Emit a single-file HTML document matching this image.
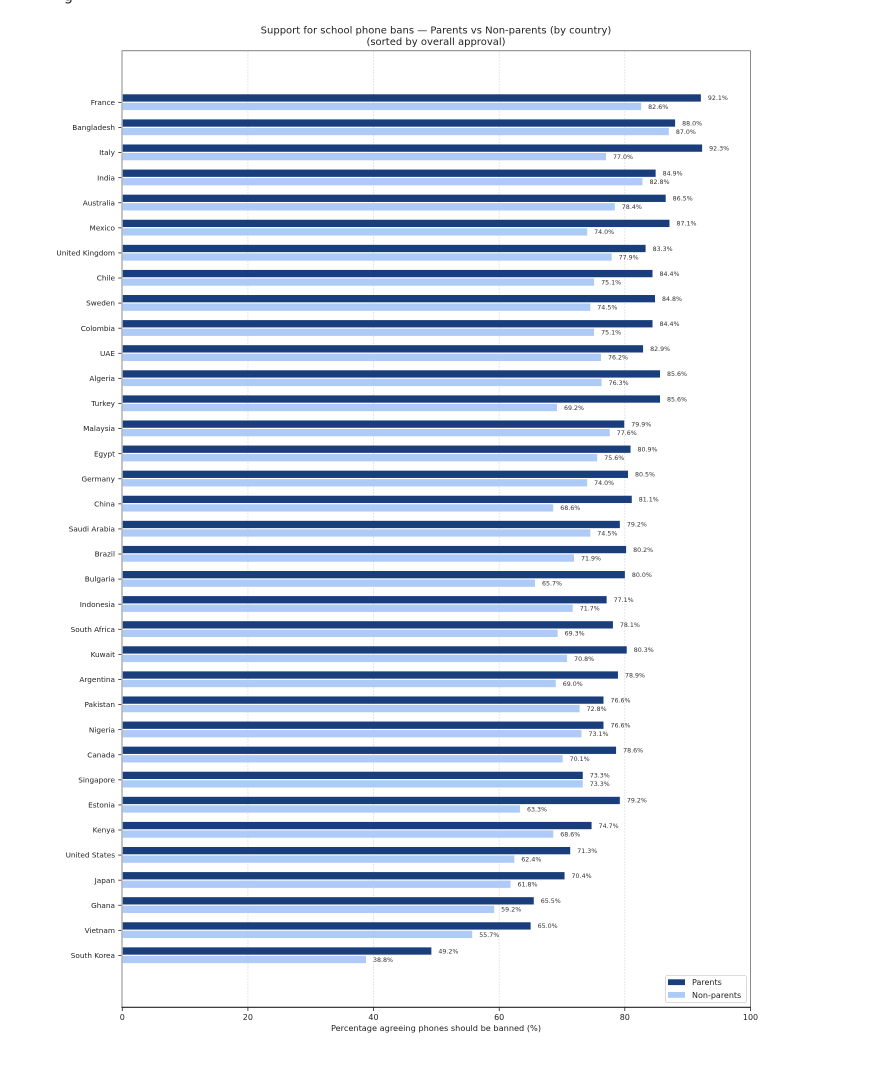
<!DOCTYPE html>
<html>
<head>
<meta charset="utf-8">
<style>
html,body{margin:0;padding:0;background:#fff;}
svg{display:block;}
text{font-family:"DejaVu Sans","Liberation Sans",sans-serif;}
.yl{font-size:7.3px;fill:#222;text-anchor:end;}
.vl{font-size:6.3px;fill:#333;}
.d{fill:#1a3e7b;}
.l{fill:#aecbf8;}
</style>
</head>
<body>
<svg width="890" height="1088" viewBox="0 0 890 1088" xmlns="http://www.w3.org/2000/svg">
<rect width="890" height="1088" fill="#fff"/>
<text x="64" y="0.5" font-size="14" fill="#222">g</text>
<!-- title -->
<text x="436" y="33.3" font-size="10" fill="#222" text-anchor="middle">Support for school phone bans — Parents vs Non-parents (by country)</text>
<text x="436" y="44.8" font-size="10" fill="#222" text-anchor="middle">(sorted by overall approval)</text>
<!-- grid -->
<g stroke="#e3e3e3" stroke-width="0.9" stroke-dasharray="2,1">
<line x1="247.9" y1="51" x2="247.9" y2="1007"/>
<line x1="373.5" y1="51" x2="373.5" y2="1007"/>
<line x1="499.2" y1="51" x2="499.2" y2="1007"/>
<line x1="624.8" y1="51" x2="624.8" y2="1007"/>
</g>
<!-- rows -->
<g id="rows">
<g transform="translate(122.3,102.40)"><rect class="d" x="0" y="-8.1" width="578.57" height="7.3"/><rect class="l" x="0" y="0.4" width="518.89" height="7.3"/><text class="vl" x="585.57" y="-2.2">92.1%</text><text class="vl" x="525.89" y="6.4">82.6%</text><text class="yl" x="-7.3" y="2.6">France</text><line x1="-4" y1="0" x2="0" y2="0" stroke="#222" stroke-width="0.8"/></g>
<g transform="translate(122.3,127.49)"><rect class="d" x="0" y="-8.1" width="552.82" height="7.3"/><rect class="l" x="0" y="0.4" width="546.53" height="7.3"/><text class="vl" x="559.82" y="-2.2">88.0%</text><text class="vl" x="553.53" y="6.4">87.0%</text><text class="yl" x="-7.3" y="2.6">Bangladesh</text><line x1="-4" y1="0" x2="0" y2="0" stroke="#222" stroke-width="0.8"/></g>
<g transform="translate(122.3,152.58)"><rect class="d" x="0" y="-8.1" width="579.83" height="7.3"/><rect class="l" x="0" y="0.4" width="483.71" height="7.3"/><text class="vl" x="586.83" y="-2.2">92.3%</text><text class="vl" x="490.71" y="6.4">77.0%</text><text class="yl" x="-7.3" y="2.6">Italy</text><line x1="-4" y1="0" x2="0" y2="0" stroke="#222" stroke-width="0.8"/></g>
<g transform="translate(122.3,177.67)"><rect class="d" x="0" y="-8.1" width="533.34" height="7.3"/><rect class="l" x="0" y="0.4" width="520.15" height="7.3"/><text class="vl" x="540.34" y="-2.2">84.9%</text><text class="vl" x="527.15" y="6.4">82.8%</text><text class="yl" x="-7.3" y="2.6">India</text><line x1="-4" y1="0" x2="0" y2="0" stroke="#222" stroke-width="0.8"/></g>
<g transform="translate(122.3,202.76)"><rect class="d" x="0" y="-8.1" width="543.39" height="7.3"/><rect class="l" x="0" y="0.4" width="492.51" height="7.3"/><text class="vl" x="550.39" y="-2.2">86.5%</text><text class="vl" x="499.51" y="6.4">78.4%</text><text class="yl" x="-7.3" y="2.6">Australia</text><line x1="-4" y1="0" x2="0" y2="0" stroke="#222" stroke-width="0.8"/></g>
<g transform="translate(122.3,227.85)"><rect class="d" x="0" y="-8.1" width="547.16" height="7.3"/><rect class="l" x="0" y="0.4" width="464.87" height="7.3"/><text class="vl" x="554.16" y="-2.2">87.1%</text><text class="vl" x="471.87" y="6.4">74.0%</text><text class="yl" x="-7.3" y="2.6">Mexico</text><line x1="-4" y1="0" x2="0" y2="0" stroke="#222" stroke-width="0.8"/></g>
<g transform="translate(122.3,252.94)"><rect class="d" x="0" y="-8.1" width="523.29" height="7.3"/><rect class="l" x="0" y="0.4" width="489.37" height="7.3"/><text class="vl" x="530.29" y="-2.2">83.3%</text><text class="vl" x="496.37" y="6.4">77.9%</text><text class="yl" x="-7.3" y="2.6">United Kingdom</text><line x1="-4" y1="0" x2="0" y2="0" stroke="#222" stroke-width="0.8"/></g>
<g transform="translate(122.3,278.03)"><rect class="d" x="0" y="-8.1" width="530.20" height="7.3"/><rect class="l" x="0" y="0.4" width="471.78" height="7.3"/><text class="vl" x="537.20" y="-2.2">84.4%</text><text class="vl" x="478.78" y="6.4">75.1%</text><text class="yl" x="-7.3" y="2.6">Chile</text><line x1="-4" y1="0" x2="0" y2="0" stroke="#222" stroke-width="0.8"/></g>
<g transform="translate(122.3,303.12)"><rect class="d" x="0" y="-8.1" width="532.71" height="7.3"/><rect class="l" x="0" y="0.4" width="468.01" height="7.3"/><text class="vl" x="539.71" y="-2.2">84.8%</text><text class="vl" x="475.01" y="6.4">74.5%</text><text class="yl" x="-7.3" y="2.6">Sweden</text><line x1="-4" y1="0" x2="0" y2="0" stroke="#222" stroke-width="0.8"/></g>
<g transform="translate(122.3,328.21)"><rect class="d" x="0" y="-8.1" width="530.20" height="7.3"/><rect class="l" x="0" y="0.4" width="471.78" height="7.3"/><text class="vl" x="537.20" y="-2.2">84.4%</text><text class="vl" x="478.78" y="6.4">75.1%</text><text class="yl" x="-7.3" y="2.6">Colombia</text><line x1="-4" y1="0" x2="0" y2="0" stroke="#222" stroke-width="0.8"/></g>
<g transform="translate(122.3,353.30)"><rect class="d" x="0" y="-8.1" width="520.78" height="7.3"/><rect class="l" x="0" y="0.4" width="478.69" height="7.3"/><text class="vl" x="527.78" y="-2.2">82.9%</text><text class="vl" x="485.69" y="6.4">76.2%</text><text class="yl" x="-7.3" y="2.6">UAE</text><line x1="-4" y1="0" x2="0" y2="0" stroke="#222" stroke-width="0.8"/></g>
<g transform="translate(122.3,378.39)"><rect class="d" x="0" y="-8.1" width="537.74" height="7.3"/><rect class="l" x="0" y="0.4" width="479.32" height="7.3"/><text class="vl" x="544.74" y="-2.2">85.6%</text><text class="vl" x="486.32" y="6.4">76.3%</text><text class="yl" x="-7.3" y="2.6">Algeria</text><line x1="-4" y1="0" x2="0" y2="0" stroke="#222" stroke-width="0.8"/></g>
<g transform="translate(122.3,403.48)"><rect class="d" x="0" y="-8.1" width="537.74" height="7.3"/><rect class="l" x="0" y="0.4" width="434.71" height="7.3"/><text class="vl" x="544.74" y="-2.2">85.6%</text><text class="vl" x="441.71" y="6.4">69.2%</text><text class="yl" x="-7.3" y="2.6">Turkey</text><line x1="-4" y1="0" x2="0" y2="0" stroke="#222" stroke-width="0.8"/></g>
<g transform="translate(122.3,428.57)"><rect class="d" x="0" y="-8.1" width="501.93" height="7.3"/><rect class="l" x="0" y="0.4" width="487.48" height="7.3"/><text class="vl" x="508.93" y="-2.2">79.9%</text><text class="vl" x="494.48" y="6.4">77.6%</text><text class="yl" x="-7.3" y="2.6">Malaysia</text><line x1="-4" y1="0" x2="0" y2="0" stroke="#222" stroke-width="0.8"/></g>
<g transform="translate(122.3,453.66)"><rect class="d" x="0" y="-8.1" width="508.21" height="7.3"/><rect class="l" x="0" y="0.4" width="474.92" height="7.3"/><text class="vl" x="515.21" y="-2.2">80.9%</text><text class="vl" x="481.92" y="6.4">75.6%</text><text class="yl" x="-7.3" y="2.6">Egypt</text><line x1="-4" y1="0" x2="0" y2="0" stroke="#222" stroke-width="0.8"/></g>
<g transform="translate(122.3,478.75)"><rect class="d" x="0" y="-8.1" width="505.70" height="7.3"/><rect class="l" x="0" y="0.4" width="464.87" height="7.3"/><text class="vl" x="512.70" y="-2.2">80.5%</text><text class="vl" x="471.87" y="6.4">74.0%</text><text class="yl" x="-7.3" y="2.6">Germany</text><line x1="-4" y1="0" x2="0" y2="0" stroke="#222" stroke-width="0.8"/></g>
<g transform="translate(122.3,503.84)"><rect class="d" x="0" y="-8.1" width="509.47" height="7.3"/><rect class="l" x="0" y="0.4" width="430.95" height="7.3"/><text class="vl" x="516.47" y="-2.2">81.1%</text><text class="vl" x="437.95" y="6.4">68.6%</text><text class="yl" x="-7.3" y="2.6">China</text><line x1="-4" y1="0" x2="0" y2="0" stroke="#222" stroke-width="0.8"/></g>
<g transform="translate(122.3,528.93)"><rect class="d" x="0" y="-8.1" width="497.53" height="7.3"/><rect class="l" x="0" y="0.4" width="468.01" height="7.3"/><text class="vl" x="504.53" y="-2.2">79.2%</text><text class="vl" x="475.01" y="6.4">74.5%</text><text class="yl" x="-7.3" y="2.6">Saudi Arabia</text><line x1="-4" y1="0" x2="0" y2="0" stroke="#222" stroke-width="0.8"/></g>
<g transform="translate(122.3,554.02)"><rect class="d" x="0" y="-8.1" width="503.82" height="7.3"/><rect class="l" x="0" y="0.4" width="451.68" height="7.3"/><text class="vl" x="510.82" y="-2.2">80.2%</text><text class="vl" x="458.68" y="6.4">71.9%</text><text class="yl" x="-7.3" y="2.6">Brazil</text><line x1="-4" y1="0" x2="0" y2="0" stroke="#222" stroke-width="0.8"/></g>
<g transform="translate(122.3,579.11)"><rect class="d" x="0" y="-8.1" width="502.56" height="7.3"/><rect class="l" x="0" y="0.4" width="412.73" height="7.3"/><text class="vl" x="509.56" y="-2.2">80.0%</text><text class="vl" x="419.73" y="6.4">65.7%</text><text class="yl" x="-7.3" y="2.6">Bulgaria</text><line x1="-4" y1="0" x2="0" y2="0" stroke="#222" stroke-width="0.8"/></g>
<g transform="translate(122.3,604.20)"><rect class="d" x="0" y="-8.1" width="484.34" height="7.3"/><rect class="l" x="0" y="0.4" width="450.42" height="7.3"/><text class="vl" x="491.34" y="-2.2">77.1%</text><text class="vl" x="457.42" y="6.4">71.7%</text><text class="yl" x="-7.3" y="2.6">Indonesia</text><line x1="-4" y1="0" x2="0" y2="0" stroke="#222" stroke-width="0.8"/></g>
<g transform="translate(122.3,629.29)"><rect class="d" x="0" y="-8.1" width="490.62" height="7.3"/><rect class="l" x="0" y="0.4" width="435.34" height="7.3"/><text class="vl" x="497.62" y="-2.2">78.1%</text><text class="vl" x="442.34" y="6.4">69.3%</text><text class="yl" x="-7.3" y="2.6">South Africa</text><line x1="-4" y1="0" x2="0" y2="0" stroke="#222" stroke-width="0.8"/></g>
<g transform="translate(122.3,654.38)"><rect class="d" x="0" y="-8.1" width="504.44" height="7.3"/><rect class="l" x="0" y="0.4" width="444.77" height="7.3"/><text class="vl" x="511.44" y="-2.2">80.3%</text><text class="vl" x="451.77" y="6.4">70.8%</text><text class="yl" x="-7.3" y="2.6">Kuwait</text><line x1="-4" y1="0" x2="0" y2="0" stroke="#222" stroke-width="0.8"/></g>
<g transform="translate(122.3,679.47)"><rect class="d" x="0" y="-8.1" width="495.65" height="7.3"/><rect class="l" x="0" y="0.4" width="433.46" height="7.3"/><text class="vl" x="502.65" y="-2.2">78.9%</text><text class="vl" x="440.46" y="6.4">69.0%</text><text class="yl" x="-7.3" y="2.6">Argentina</text><line x1="-4" y1="0" x2="0" y2="0" stroke="#222" stroke-width="0.8"/></g>
<g transform="translate(122.3,704.56)"><rect class="d" x="0" y="-8.1" width="481.20" height="7.3"/><rect class="l" x="0" y="0.4" width="457.33" height="7.3"/><text class="vl" x="488.20" y="-2.2">76.6%</text><text class="vl" x="464.33" y="6.4">72.8%</text><text class="yl" x="-7.3" y="2.6">Pakistan</text><line x1="-4" y1="0" x2="0" y2="0" stroke="#222" stroke-width="0.8"/></g>
<g transform="translate(122.3,729.65)"><rect class="d" x="0" y="-8.1" width="481.20" height="7.3"/><rect class="l" x="0" y="0.4" width="459.21" height="7.3"/><text class="vl" x="488.20" y="-2.2">76.6%</text><text class="vl" x="466.21" y="6.4">73.1%</text><text class="yl" x="-7.3" y="2.6">Nigeria</text><line x1="-4" y1="0" x2="0" y2="0" stroke="#222" stroke-width="0.8"/></g>
<g transform="translate(122.3,754.74)"><rect class="d" x="0" y="-8.1" width="493.77" height="7.3"/><rect class="l" x="0" y="0.4" width="440.37" height="7.3"/><text class="vl" x="500.77" y="-2.2">78.6%</text><text class="vl" x="447.37" y="6.4">70.1%</text><text class="yl" x="-7.3" y="2.6">Canada</text><line x1="-4" y1="0" x2="0" y2="0" stroke="#222" stroke-width="0.8"/></g>
<g transform="translate(122.3,779.83)"><rect class="d" x="0" y="-8.1" width="460.47" height="7.3"/><rect class="l" x="0" y="0.4" width="460.47" height="7.3"/><text class="vl" x="467.47" y="-2.2">73.3%</text><text class="vl" x="467.47" y="6.4">73.3%</text><text class="yl" x="-7.3" y="2.6">Singapore</text><line x1="-4" y1="0" x2="0" y2="0" stroke="#222" stroke-width="0.8"/></g>
<g transform="translate(122.3,804.92)"><rect class="d" x="0" y="-8.1" width="497.53" height="7.3"/><rect class="l" x="0" y="0.4" width="397.65" height="7.3"/><text class="vl" x="504.53" y="-2.2">79.2%</text><text class="vl" x="404.65" y="6.4">63.3%</text><text class="yl" x="-7.3" y="2.6">Estonia</text><line x1="-4" y1="0" x2="0" y2="0" stroke="#222" stroke-width="0.8"/></g>
<g transform="translate(122.3,830.01)"><rect class="d" x="0" y="-8.1" width="469.27" height="7.3"/><rect class="l" x="0" y="0.4" width="430.95" height="7.3"/><text class="vl" x="476.27" y="-2.2">74.7%</text><text class="vl" x="437.95" y="6.4">68.6%</text><text class="yl" x="-7.3" y="2.6">Kenya</text><line x1="-4" y1="0" x2="0" y2="0" stroke="#222" stroke-width="0.8"/></g>
<g transform="translate(122.3,855.10)"><rect class="d" x="0" y="-8.1" width="447.91" height="7.3"/><rect class="l" x="0" y="0.4" width="392.00" height="7.3"/><text class="vl" x="454.91" y="-2.2">71.3%</text><text class="vl" x="399.00" y="6.4">62.4%</text><text class="yl" x="-7.3" y="2.6">United States</text><line x1="-4" y1="0" x2="0" y2="0" stroke="#222" stroke-width="0.8"/></g>
<g transform="translate(122.3,880.19)"><rect class="d" x="0" y="-8.1" width="442.25" height="7.3"/><rect class="l" x="0" y="0.4" width="388.23" height="7.3"/><text class="vl" x="449.25" y="-2.2">70.4%</text><text class="vl" x="395.23" y="6.4">61.8%</text><text class="yl" x="-7.3" y="2.6">Japan</text><line x1="-4" y1="0" x2="0" y2="0" stroke="#222" stroke-width="0.8"/></g>
<g transform="translate(122.3,905.28)"><rect class="d" x="0" y="-8.1" width="411.47" height="7.3"/><rect class="l" x="0" y="0.4" width="371.89" height="7.3"/><text class="vl" x="418.47" y="-2.2">65.5%</text><text class="vl" x="378.89" y="6.4">59.2%</text><text class="yl" x="-7.3" y="2.6">Ghana</text><line x1="-4" y1="0" x2="0" y2="0" stroke="#222" stroke-width="0.8"/></g>
<g transform="translate(122.3,930.37)"><rect class="d" x="0" y="-8.1" width="408.33" height="7.3"/><rect class="l" x="0" y="0.4" width="349.91" height="7.3"/><text class="vl" x="415.33" y="-2.2">65.0%</text><text class="vl" x="356.91" y="6.4">55.7%</text><text class="yl" x="-7.3" y="2.6">Vietnam</text><line x1="-4" y1="0" x2="0" y2="0" stroke="#222" stroke-width="0.8"/></g>
<g transform="translate(122.3,955.46)"><rect class="d" x="0" y="-8.1" width="309.07" height="7.3"/><rect class="l" x="0" y="0.4" width="243.74" height="7.3"/><text class="vl" x="316.07" y="-2.2">49.2%</text><text class="vl" x="250.74" y="6.4">38.8%</text><text class="yl" x="-7.3" y="2.6">South Korea</text><line x1="-4" y1="0" x2="0" y2="0" stroke="#222" stroke-width="0.8"/></g>
</g>
<!-- spines -->
<line x1="122" y1="50.6" x2="750.5" y2="50.6" stroke="#9a9a9a" stroke-width="1.2"/>
<line x1="750.5" y1="50.6" x2="750.5" y2="1007.3" stroke="#8a8a8a" stroke-width="1"/>
<line x1="122" y1="50.6" x2="122" y2="1007.3" stroke="#b5b5b5" stroke-width="1.6"/>
<line x1="121.5" y1="1007.3" x2="751" y2="1007.3" stroke="#222" stroke-width="1.2"/>
<!-- x ticks -->
<g stroke="#222" stroke-width="0.8">
<line x1="122.3" y1="1007.3" x2="122.3" y2="1011"/>
<line x1="247.9" y1="1007.3" x2="247.9" y2="1011"/>
<line x1="373.5" y1="1007.3" x2="373.5" y2="1011"/>
<line x1="499.2" y1="1007.3" x2="499.2" y2="1011"/>
<line x1="624.8" y1="1007.3" x2="624.8" y2="1011"/>
<line x1="750.5" y1="1007.3" x2="750.5" y2="1011"/>
</g>
<g font-size="8" fill="#222" text-anchor="middle">
<text x="122.3" y="1020">0</text>
<text x="247.9" y="1020">20</text>
<text x="373.5" y="1020">40</text>
<text x="499.2" y="1020">60</text>
<text x="624.8" y="1020">80</text>
<text x="750.5" y="1020">100</text>
</g>
<text x="436" y="1031" font-size="8.2" fill="#222" text-anchor="middle">Percentage agreeing phones should be banned (%)</text>
<!-- legend -->
<rect x="665.5" y="975.5" width="81" height="27" rx="2" fill="#fff" stroke="#d0d0d0" stroke-width="0.8"/>
<rect x="668" y="979.3" width="17" height="5.8" class="d"/>
<rect x="668" y="992" width="17" height="5.8" class="l"/>
<text x="692" y="985" font-size="8" fill="#222">Parents</text>
<text x="692" y="998" font-size="8" fill="#222">Non-parents</text>
</svg>
</body>
</html>
